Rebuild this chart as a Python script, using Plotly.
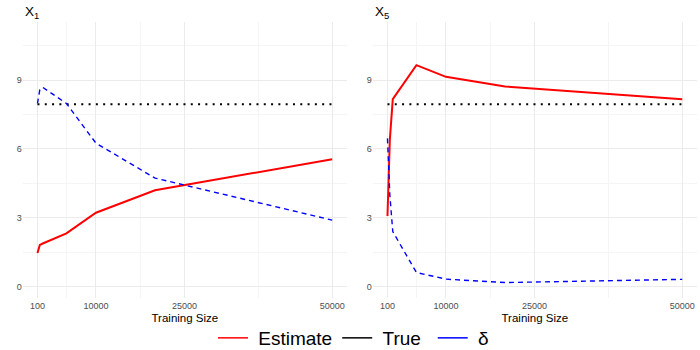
import plotly.graph_objects as go
from plotly.subplots import make_subplots

# ---- data ----
sizes = [100, 500, 1000, 5000, 10000, 20000, 50000]
x1_estimate = [1.47, 1.82, 1.88, 2.32, 3.22, 4.20, 5.55]
x1_delta = [7.98, 8.58, 8.68, 7.98, 6.25, 4.73, 2.90]
x5_estimate = [3.08, 6.40, 8.17, 9.65, 9.14, 8.72, 8.16]
x5_delta = [6.46, 4.00, 2.40, 0.62, 0.33, 0.18, 0.32]
true_value = 7.95

panel_titles = ["X<sub>1</sub>", "X<sub>5</sub>"]
legend_names = ["Estimate", "True", "δ"]
x_tickvals = [100, 10000, 25000, 50000]
x_ticktext = ["100", "10000", "25000", "50000"]
x_minor = [5050, 17500, 37500]
y_tickvals = [0, 3, 6, 9]
y_minor = [1.5, 4.5, 7.5, 10.5]

W, H = 700, 350
FONT = "Liberation Sans, Arial, Helvetica, sans-serif"
RED, BLUE, BLACK = "#FF0000", "#0000FF", "#000000"
NB = "\u00a0"
HAIR = "\u200a"

fig = make_subplots(rows=1, cols=2)

panels = [(x1_estimate, x1_delta), (x5_estimate, x5_delta)]
for i, (est, dlt) in enumerate(panels, start=1):
    fig.add_trace(go.Scatter(x=sizes, y=est, mode="lines", showlegend=False,
                             line=dict(color=RED, width=2)), row=1, col=i)
    fig.add_trace(go.Scatter(x=[sizes[0], sizes[-1]], y=[true_value, true_value],
                             mode="lines", showlegend=False,
                             line=dict(color=BLACK, width=2, dash="2px,5.3px")),
                  row=1, col=i)
    fig.add_trace(go.Scatter(x=sizes, y=dlt, mode="lines", showlegend=False,
                             line=dict(color=BLUE, width=1.4, dash="5px,4px")),
                  row=1, col=i)

# legend entries (solid keys as in the reference)
pads = [(NB, ""), (NB, NB + HAIR), (NB, "")]
for name, col, (pl, pr) in zip(legend_names, [RED, BLACK, BLUE], pads):
    fig.add_trace(go.Scatter(x=[None], y=[None], mode="lines",
                             name=pl + name + pr,
                             line=dict(color=col, width=1.5)), row=1, col=1)

# panel geometry (pixels)
py_top, py_bot = 21.7, 298.3
doms = [(22.7, 347.0), (372.7, 697.0)]
xr = [-2400, 52500]
yr = [-0.505, 11.54]

for i, (l, r) in enumerate(doms, start=1):
    xa = "xaxis" if i == 1 else f"xaxis{i}"
    ya = "yaxis" if i == 1 else f"yaxis{i}"
    fig.layout[xa].update(
        domain=[l / W, r / W], range=xr, tickmode="array", tickvals=x_tickvals,
        ticktext=x_ticktext, showline=False, zeroline=False, ticks="",
        showgrid=True, gridcolor="#EBEBEB", gridwidth=1, automargin=False,
        ticklabelstandoff=1,
        tickfont=dict(family=FONT, size=9, color="#4D4D4D"),
        minor=dict(tickmode="array", tickvals=x_minor, showgrid=True,
                   gridcolor="#F5F5F5", gridwidth=1, ticks=""),
        title=dict(text="Training Size", standoff=3,
                   font=dict(family=FONT, size=11.5, color="#000000")),
    )
    fig.layout[ya].update(
        domain=[1 - py_bot / H, 1 - py_top / H], range=yr, tickmode="array",
        tickvals=y_tickvals, showline=False, zeroline=False, ticks="",
        showgrid=True, gridcolor="#EBEBEB", gridwidth=1, automargin=False,
        tickfont=dict(family=FONT, size=9, color="#4D4D4D"),
        minor=dict(tickmode="array", tickvals=y_minor, showgrid=True,
                   gridcolor="#F5F5F5", gridwidth=1, ticks=""),
    )
    fig.add_annotation(text=panel_titles[i - 1], xref="paper", yref="paper",
                       x=l / W, y=1 - 2 / H, xanchor="left", yanchor="top",
                       showarrow=False, font=dict(family=FONT, size=13.5, color="#000000"))

fig.update_layout(
    width=W, height=H, margin=dict(l=0, r=0, t=0, b=0, autoexpand=False),
    paper_bgcolor="white", plot_bgcolor="white",
    font=dict(family=FONT),
    legend=dict(orientation="h", x=0.5 + 3.5 / W, xanchor="center", y=12 / H,
                yanchor="middle",
                font=dict(family=FONT, size=19, color="#000000"),
                itemwidth=30, bgcolor="rgba(0,0,0,0)", traceorder="normal"),
)

fig.write_html("out.html", config={"displayModeBar": False},
               post_script="document.body.style.margin='0';document.body.style.overflow='hidden';")
